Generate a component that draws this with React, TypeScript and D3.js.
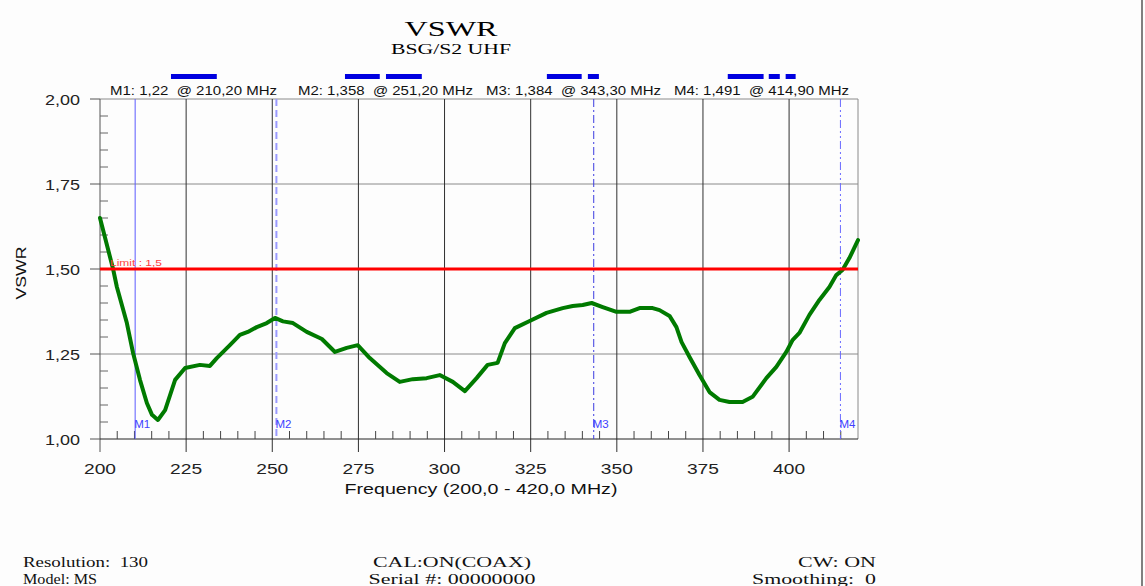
import React from 'react';
import * as d3 from 'd3';

// sweep values
const freqs = [200.0, 203.8, 204.9, 207.8, 209.6, 211.6, 213.6, 215.1, 216.8, 218.9, 221.8, 224.7, 229.0, 231.9, 233.9, 237.7, 240.6, 242.9, 245.5, 248.4, 250.8, 253.1, 256.0, 260.0, 264.4, 268.2, 271.6, 274.8, 278.3, 283.2, 287.0, 290.8, 294.8, 298.6, 302.4, 305.9, 309.3, 312.5, 315.4, 317.5, 320.4, 324.7, 329.6, 334.3, 337.2, 340.1, 342.7, 345.9, 349.9, 353.7, 356.6, 360.4, 362.4, 365.3, 367.3, 368.8, 371.1, 374.0, 376.9, 379.8, 382.7, 386.5, 389.4, 393.4, 396.3, 399.2, 401.0, 403.0, 405.9, 408.8, 411.7, 413.7, 415.5, 417.5, 420.0];
const vswr = [1.650, 1.500, 1.447, 1.341, 1.253, 1.174, 1.106, 1.071, 1.056, 1.085, 1.174, 1.209, 1.218, 1.215, 1.238, 1.276, 1.306, 1.315, 1.329, 1.341, 1.356, 1.346, 1.341, 1.315, 1.294, 1.256, 1.268, 1.276, 1.238, 1.194, 1.168, 1.176, 1.179, 1.188, 1.168, 1.141, 1.179, 1.218, 1.224, 1.282, 1.326, 1.347, 1.371, 1.385, 1.391, 1.394, 1.400, 1.388, 1.374, 1.374, 1.385, 1.385, 1.379, 1.362, 1.329, 1.285, 1.241, 1.188, 1.138, 1.115, 1.109, 1.109, 1.124, 1.179, 1.212, 1.256, 1.291, 1.312, 1.365, 1.409, 1.447, 1.482, 1.497, 1.532, 1.585];

const markerNames = ['M1', 'M2', 'M3', 'M4'];
const markerFreqs = [210.2, 251.2, 343.3, 414.9];
const markerValues = ['1,22', '1,358', '1,384', '1,491'];
const markerDash = ['none', '7,4', '8,3,2,3', '8,3,2,3,2,3'];
const markerColor = ['#5a5aff', '#9a9aff', '#3c3ce0', '#6a6aff'];
const markerWidth = [1, 2, 1, 1];

// blue band bars above the marker readouts (MHz)
const bandStart = [220.6, 271.1, 283.0, 329.7, 341.6, 382.2, 394.1, 399.0];
const bandEnd = [233.9, 281.2, 293.4, 339.8, 344.8, 392.6, 397.3, 401.9];

const xTicks = [200, 225, 250, 275, 300, 325, 350, 375, 400];
const yTicks = [1.0, 1.25, 1.5, 1.75, 2.0];
const limit = 1.5;

const footLeft = ['Resolution:  130', 'Model: MS'];
const footMid = ['CAL:ON(COAX)', 'Serial #: 00000000'];
const footRight = ['CW: ON', 'Smoothing:  0'];

const W = 1145;
const H = 586;
const sans = '"Liberation Sans", Arial, sans-serif';
const serif = '"Liberation Serif", "Times New Roman", serif';

function fmt(v: number) {
    return v.toFixed(2).replace('.', ',');
}

export default function App() {
    const x = d3.scaleLinear().domain([200, 420]).range([100, 858]);
    const y = d3.scaleLinear().domain([1, 2]).range([439, 99]);
    const pts: Array<[number, number]> = freqs.map((f, i) => [f, vswr[i]]);
    const line = d3.line<[number, number]>()
        .x(d => x(d[0]))
        .y(d => y(d[1]));
    const minorX = d3.range(205, 420, 5).filter(v => v % 25 !== 0);
    const minorY = d3.range(1.05, 2.0, 0.05).filter(v => Math.abs(v * 4 - Math.round(v * 4)) > 0.01);
    const [x0, x1] = x.range();
    const [yb, yt] = y.range();

    return (
        <div style={{position: 'absolute', left: 0, top: 0}}>
            <svg width={W} height={H} style={{display: 'block', background: '#fdfdfd'}}>
                <line x1={1142} x2={1142} y1={0} y2={H} stroke="#808080" strokeWidth={2} />

                {/* titles */}
                <text x={451} y={36} textAnchor="middle" fontFamily={serif} fontSize={21} textLength={93} lengthAdjust="spacingAndGlyphs">VSWR</text>
                <text x={451} y={54} textAnchor="middle" fontFamily={serif} fontSize={15} textLength={120} lengthAdjust="spacingAndGlyphs">BSG/S2 UHF</text>

                {bandStart.map((s, i) => (
                    <rect key={'b' + i} x={x(s)} y={74} width={x(bandEnd[i]) - x(s)} height={5} fill="#0000e0" />
                ))}

                {markerNames.map((m, i) => (
                    <text key={'ml' + i} x={110 + i * 188} y={95} fontFamily={sans} fontSize={13} fill="#111"
                        style={{whiteSpace: 'pre'}} textLength={i === 0 ? 167 : 175} lengthAdjust="spacingAndGlyphs">
                        {`${m}: ${markerValues[i]}  @ ${fmt(markerFreqs[i])} MHz`}
                    </text>
                ))}

                {/* grid */}
                {yTicks.filter(v => v > 1).map(v => (
                    <line key={'gy' + v} x1={x0} x2={x1} y1={y(v)} y2={y(v)} stroke="#8a8a8a" strokeWidth={1} />
                ))}
                {xTicks.filter(v => v > 200).map(v => (
                    <line key={'gx' + v} x1={x(v)} x2={x(v)} y1={yt} y2={yb + 13} stroke="#303030" strokeWidth={1} />
                ))}
                <line x1={x1} x2={x1} y1={yt} y2={yb} stroke="#8a8a8a" />

                {/* axes */}
                <line x1={x0} x2={x0} y1={yt} y2={yb + 13} stroke="#555" />
                <line x1={x0} x2={x1} y1={yb} y2={yb} stroke="#222" />
                {yTicks.map(v => (
                    <g key={'ty' + v}>
                        <line x1={x0 - 10} x2={x0} y1={y(v)} y2={y(v)} stroke="#555" />
                        <text x={80} y={y(v) + 6} textAnchor="end" fontFamily={sans} fontSize={15} fill="#222"
                            textLength={35} lengthAdjust="spacingAndGlyphs">{fmt(v)}</text>
                    </g>
                ))}
                {minorY.map(v => (
                    <line key={'my' + v} x1={x0} x2={x0 + 8} y1={y(v)} y2={y(v)} stroke="#666" />
                ))}
                {minorX.map(v => (
                    <line key={'mx' + v} x1={x(v)} x2={x(v)} y1={yb - 8} y2={yb} stroke="#444" />
                ))}
                {xTicks.map(v => (
                    <text key={'tx' + v} x={x(v)} y={474} textAnchor="middle" fontFamily={sans} fontSize={15} fill="#222"
                        textLength={32} lengthAdjust="spacingAndGlyphs">{v}</text>
                ))}
                <text x={481} y={494} textAnchor="middle" fontFamily={sans} fontSize={15} fill="#111"
                    textLength={273} lengthAdjust="spacingAndGlyphs">Frequency (200,0 - 420,0 MHz)</text>
                <text transform="translate(26,273) rotate(-90)" textAnchor="middle" fontFamily={sans} fontSize={15} fill="#111"
                    textLength={53} lengthAdjust="spacingAndGlyphs">VSWR</text>

                {/* markers */}
                {markerNames.map((m, i) => (
                    <g key={'mk' + i}>
                        <line x1={x(markerFreqs[i])} x2={x(markerFreqs[i])} y1={yt} y2={yb}
                            stroke={markerColor[i]} strokeWidth={markerWidth[i]}
                            strokeDasharray={markerDash[i] === 'none' ? undefined : markerDash[i]} />
                        <text x={x(markerFreqs[i]) - 1} y={428} fontFamily={sans} fontSize={10} fill="#4040ff"
                            textLength={16} lengthAdjust="spacingAndGlyphs">{m}</text>
                    </g>
                ))}

                <path d={line(pts) || ''} fill="none" stroke="#007a00" strokeWidth={4} strokeLinejoin="round" strokeLinecap="round" />
                <line x1={x0} x2={x1} y1={y(limit)} y2={y(limit)} stroke="#ff0000" strokeWidth={3} />
                <text x={110} y={266} fontFamily={sans} fontSize={9} fill="#ff4040"
                    textLength={52} lengthAdjust="spacingAndGlyphs">Limit : 1,5</text>

                {/* footer */}
                {footLeft.map((t, i) => (
                    <text key={'fl' + i} x={23} y={567 + i * 17} fontFamily={serif} fontSize={15} fill="#111"
                        style={{whiteSpace: 'pre'}} textLength={i === 0 ? 125 : 74} lengthAdjust="spacingAndGlyphs">{t}</text>
                ))}
                {footMid.map((t, i) => (
                    <text key={'fm' + i} x={452} y={567 + i * 17} textAnchor="middle" fontFamily={serif} fontSize={15} fill="#111"
                        textLength={i === 0 ? 158 : 167} lengthAdjust="spacingAndGlyphs">{t}</text>
                ))}
                {footRight.map((t, i) => (
                    <text key={'fr' + i} x={876} y={567 + i * 17} textAnchor="end" fontFamily={serif} fontSize={15} fill="#111"
                        style={{whiteSpace: 'pre'}} textLength={i === 0 ? 78 : 124} lengthAdjust="spacingAndGlyphs">{t}</text>
                ))}
            </svg>
        </div>
    );
}
